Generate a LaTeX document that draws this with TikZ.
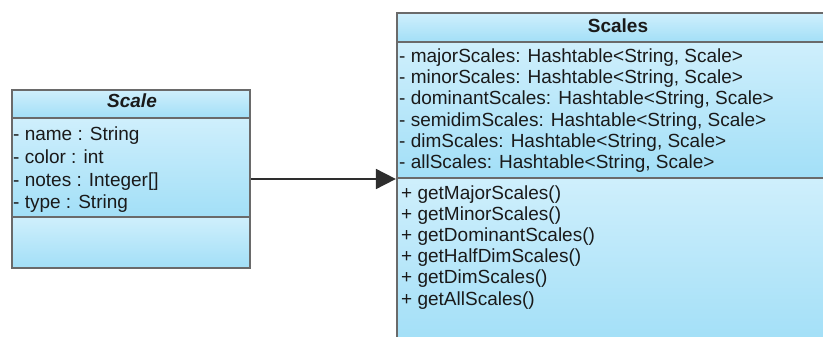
\documentclass[tikz,border=0pt]{standalone}
\usepackage{fontspec}
\setmainfont{Liberation Sans}
\usetikzlibrary{arrows.meta}

\definecolor{umltop}{HTML}{CFEFFC}
\definecolor{umlbottom}{HTML}{A2DFF7}
\definecolor{umlborder}{HTML}{6A6A6A}
\definecolor{umltext}{HTML}{1A1A1A}
\definecolor{umlarrow}{HTML}{2E2E2E}

\tikzset{
	compartment/.style={top color=umltop, bottom color=umlbottom, draw=none},
	classbox/.style={draw=umlborder, line width=2.2pt, inner sep=0pt},
	sepline/.style={draw=umlborder, line width=2.2pt},
	member/.style={anchor=base west, inner sep=0pt, text=umltext, font=\fontsize{19}{21}\selectfont},
	classname/.style={anchor=base, inner sep=0pt, text=umltext, font=\fontsize{19}{21}\selectfont\bfseries},
}

\begin{document}
\begin{tikzpicture}[x=1pt, y=-1pt]
		\useasboundingbox (0,0) rectangle (823,337);
		\clip (0,0) rectangle (823,337);

		% Compartimentos de la clase Scale
		\shade[compartment] (12,90) rectangle (250,118);
		\shade[compartment] (12,118) rectangle (250,217);
		\shade[compartment] (12,217) rectangle (250,268);

		% Compartimentos de la clase Scales
		\shade[compartment] (397,13) rectangle (839,42);
		\shade[compartment] (397,42) rectangle (839,178);
		\shade[compartment] (397,178) rectangle (839,345);

		% Contornos
		\node[classbox, minimum width=238pt, minimum height=178pt] (scale) at (131,179) {};
		\node[classbox, minimum width=442pt, minimum height=332pt] (scales) at (618,179) {};
		\draw[sepline] (12,118) -- (250,118);
		\draw[sepline] (12,217) -- (250,217);
		\draw[sepline] (397,42) -- (839,42);
		\draw[sepline] (397,178) -- (839,178);

		% Nombres de las clases
		\node[classname, font=\fontsize{19}{21}\selectfont\bfseries\itshape] (scalename) at (132,108) {Scale};
		\node[classname] (scalesname) at (618,32.5) {Scales};

		% Atributos de Scale
		\node[member] (sa1) at (13,141) {- name : String};
		\node[member] (sa2) at (13,163.5) {- color : int};
		\node[member] (sa3) at (13,186) {- notes : Integer[]};
		\node[member] (sa4) at (13,208.5) {- type : String};

		% Atributos de Scales
		\node[member] (ta1) at (399,63) {- majorScales: Hashtable<String, Scale>};
		\node[member] (ta2) at (399,84) {- minorScales: Hashtable<String, Scale>};
		\node[member] (ta3) at (399,105) {- dominantScales: Hashtable<String, Scale>};
		\node[member] (ta4) at (399,126) {- semidimScales: Hashtable<String, Scale>};
		\node[member] (ta5) at (399,147) {- dimScales: Hashtable<String, Scale>};
		\node[member] (ta6) at (399,168) {- allScales: Hashtable<String, Scale>};

		% Metodos de Scales
		\node[member] (tm1) at (401,199) {+ getMajorScales()};
		\node[member] (tm2) at (401,220.2) {+ getMinorScales()};
		\node[member] (tm3) at (401,241.4) {+ getDominantScales()};
		\node[member] (tm4) at (401,262.6) {+ getHalfDimScales()};
		\node[member] (tm5) at (401,283.8) {+ getDimScales()};
		\node[member] (tm6) at (401,305) {+ getAllScales()};

		% Asociacion
		\draw[color=umlarrow, line width=1.7pt, -{Triangle[length=20pt, width=20pt]}] (scale.east) -- (scales.west);
	\end{tikzpicture}
\end{document}
